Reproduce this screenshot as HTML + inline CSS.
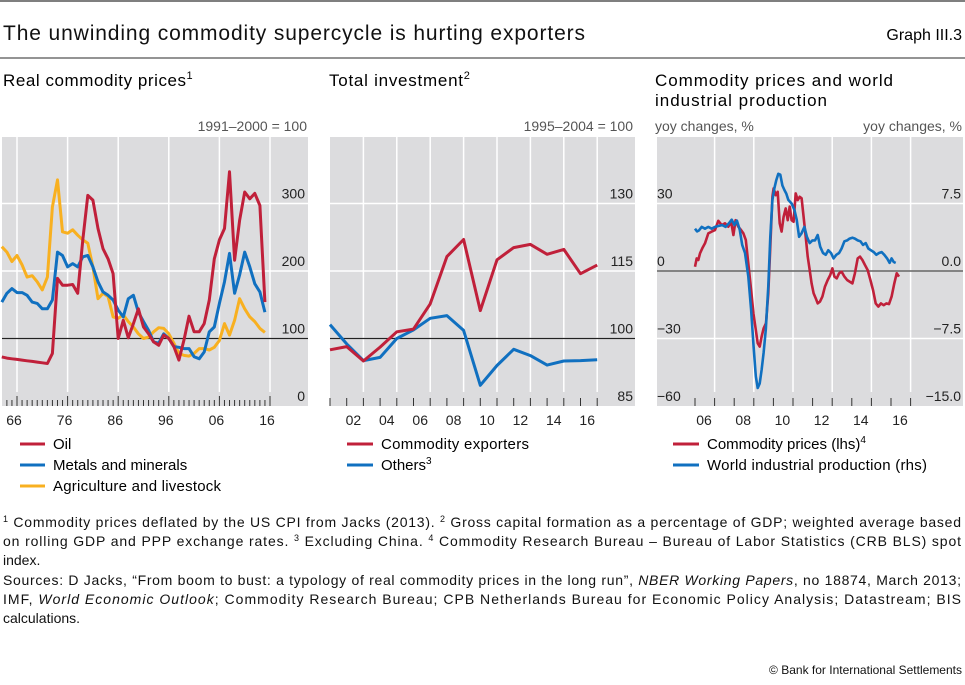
<!DOCTYPE html>
<html><head><meta charset="utf-8"><style>
body{margin:0;background:#fff;width:965px;height:685px;overflow:hidden;font-family:"Liberation Sans",sans-serif;color:#111}
svg{position:absolute;left:0;top:0}
</style></head><body>
<svg id="c" width="965" height="685">
<line x1="0" y1="1" x2="965" y2="1" stroke="#333" stroke-width="1.2"/>
<text x="3" y="40" font-size="21" fill="#111" textLength="582">The unwinding commodity supercycle is hurting exporters</text>
<text x="962" y="40" font-size="16" text-anchor="end">Graph III.3</text>
<line x1="0" y1="58" x2="965" y2="58" stroke="#555" stroke-width="1.2"/>
<text x="3" y="86" font-size="17"><tspan textLength="183">Real commodity prices</tspan><tspan font-size="11" dy="-7">1</tspan></text>
<text x="329" y="86" font-size="17"><tspan textLength="134">Total investment</tspan><tspan font-size="11" dy="-7">2</tspan></text>
<text x="655" y="86" font-size="17" textLength="238">Commodity prices and world</text>
<text x="655" y="106" font-size="17" textLength="172">industrial production</text>
<text x="307" y="131" font-size="14" fill="#555" text-anchor="end">1991–2000 = 100</text>
<text x="633" y="131" font-size="14" fill="#555" text-anchor="end">1995–2004 = 100</text>
<text x="655" y="131" font-size="14" fill="#555">yoy changes, %</text>
<text x="962" y="131" font-size="14" fill="#555" text-anchor="end">yoy changes, %</text>
<g id="p1"></g><g id="p2"></g><g id="p3"></g>
<g font-size="15">
<line x1="20" x2="45" y1="444" y2="444" stroke="#c0203a" stroke-width="3"/>
<text x="53" y="449">Oil</text>
<line x1="20" x2="45" y1="465" y2="465" stroke="#1070c0" stroke-width="3"/>
<text x="53" y="470">Metals and minerals</text>
<line x1="20" x2="45" y1="486" y2="486" stroke="#f8b020" stroke-width="3"/>
<text x="53" y="491" textLength="168">Agriculture and livestock</text>
<line x1="347" x2="373" y1="444" y2="444" stroke="#c0203a" stroke-width="3"/>
<text x="381" y="449" textLength="148">Commodity exporters</text>
<line x1="347" x2="373" y1="465" y2="465" stroke="#1070c0" stroke-width="3"/>
<text x="381" y="470">Others<tspan font-size="10" dy="-6">3</tspan></text>
<line x1="673" x2="699" y1="444" y2="444" stroke="#c0203a" stroke-width="3"/>
<text x="707" y="449">Commodity prices (lhs)<tspan font-size="10" dy="-6">4</tspan></text>
<line x1="673" x2="699" y1="465" y2="465" stroke="#1070c0" stroke-width="3"/>
<text x="707" y="470" textLength="220">World industrial production (rhs)</text>
</g>
<g font-size="14" fill="#111" xml:space="preserve">
<text x="3" y="527" textLength="958"><tspan font-size="9" dy="-5">1</tspan><tspan dy="5">  Commodity prices deflated by the US CPI from Jacks (2013).    </tspan><tspan font-size="9" dy="-5">2</tspan><tspan dy="5">  Gross capital formation as a percentage of GDP; weighted average based</tspan></text>
<text x="3" y="546" textLength="958">on rolling GDP and PPP exchange rates.    <tspan font-size="9" dy="-5">3</tspan><tspan dy="5">  Excluding China.    </tspan><tspan font-size="9" dy="-5">4</tspan><tspan dy="5">  Commodity Research Bureau – Bureau of Labor Statistics (CRB BLS) spot</tspan></text>
<text x="3" y="565">index.</text>
<text x="3" y="585" textLength="958">Sources: D Jacks, “From boom to bust: a typology of real commodity prices in the long run”, <tspan font-style="italic">NBER Working Papers</tspan>, no 18874, March 2013;</text>
<text x="3" y="604" textLength="958">IMF, <tspan font-style="italic">World Economic Outlook</tspan>; Commodity Research Bureau; CPB Netherlands Bureau for Economic Policy Analysis; Datastream; BIS</text>
<text x="3" y="623">calculations.</text>
<text x="962" y="674" font-size="12" text-anchor="end">© Bank for International Settlements</text>
</g>
</svg>
<script>
// Panel 1 data (annual, 1963–2015)
const p1Start = 1963;
const oil = [72.8,71,70,69,68,67,66,65,64,63,78,189,179,179,180,167,246,312,305,263,233,218,196,100,127,101,122,144,117,107,95,90,105,100,88,68,98,133,110,110,122,157,218,246,263,347,216,275,317,307,315,297,154];
const metals = [154,167,174,168,168,164,154,152,144,144,157,228,223,206,211,206,221,223,206,184,169,164,157,142,132,159,164,139,125,112,95,93,107,100,88,87,85,85,73,70,80,110,117,152,184,226,167,194,228,206,181,169,139];
const agri = [236,228,214,223,209,191,193,184,172,191,295,335,258,256,261,253,246,241,206,159,167,162,132,130,135,125,117,107,100,102,110,116,115,107,93,78,75,74,78,85,85,83,87,97,122,105,127,159,144,132,125,115,109];
const p1YTicks = [0,100,200,300];
const p1XLabels = ["66","76","86","96","06","16"];
const p1XLabelYears = [1966,1976,1986,1996,2006,2016];
// Panel 2 data (annual, 2000–2016)
const p2Years = [2000,2001,2002,2003,2004,2005,2006,2007,2008,2009,2010,2011,2012,2013,2014,2015,2016];
const exporters = [97.5,98.2,95,98.1,101.5,102.1,107.7,118.2,122,106.2,117.5,120.2,120.9,118.7,119.8,114.4,116.3];
const others = [103.1,98.8,95.1,95.8,100,101.9,104.5,105.1,101.8,89.6,94,97.6,96.2,94.1,95,95.1,95.3];
const p2YTicks = [85,100,115,130];
const p2XLabels = ["02","04","06","08","10","12","14","16"];
// Panel 3 data (years since 2006)
const redT = [0,.085,.17,.255,.374,.51,.68,.85,1.02,1.19,1.36,1.53,1.70,1.84,1.96,2.07,2.21,2.35,2.47,2.59,2.72,2.86,2.98,3.10,3.20,3.30,3.40,3.50,3.62,3.74,3.84,3.95,4.01,4.12,4.22,4.32,4.42,4.52,4.63,4.73,4.83,4.93,5.03,5.14,5.24,5.34,5.44,5.54,5.65,5.75,5.85,5.95,6.05,6.16,6.26,6.38,6.50,6.63,6.77,6.90,7.01,7.11,7.23,7.35,7.48,7.62,7.76,7.89,8.03,8.16,8.30,8.42,8.54,8.67,8.81,8.95,9.08,9.22,9.35,9.49,9.63,9.76,9.90,10.03,10.17,10.29,10.41];
const commodity = [1.9,5.6,4.9,7.8,10.1,12.3,16.7,17.5,18.2,22.3,20.4,21.2,19.7,21.9,16,22.6,19.7,18.2,16.7,13.8,3.4,-8.4,-18.8,-26.2,-32.1,-33.6,-29.2,-25.5,-23.2,-9.9,10.8,33,36.7,33.7,35.2,21.2,17.5,24.1,27.8,22.6,28.6,22.6,21.9,34.5,31.5,33,32.3,24.1,15.2,6.4,0.4,-5.5,-9.9,-12.1,-14.4,-13.6,-11.4,-7,-4,-1.8,1.2,-2.5,-3.3,-1,-0.3,-2.5,-4,-4.7,-5.5,-1,5.6,6.4,4.9,2.7,0.4,-4,-8.4,-14.4,-15.8,-14.4,-15.2,-14.4,-14.7,-11.4,-5.5,-1,-2.5];
const blueT = [0,.10,.20,.34,.51,.68,.85,1.02,1.19,1.39,1.56,1.73,1.87,2.01,2.14,2.28,2.41,2.55,2.72,2.86,2.99,3.10,3.20,3.30,3.40,3.50,3.61,3.74,3.84,3.95,4.05,4.15,4.25,4.35,4.46,4.56,4.66,4.76,4.93,5.07,5.19,5.31,5.44,5.58,5.71,5.85,5.99,6.12,6.26,6.39,6.53,6.67,6.80,6.94,7.07,7.21,7.35,7.48,7.62,7.76,7.89,8.03,8.16,8.30,8.44,8.57,8.71,8.84,8.98,9.12,9.25,9.39,9.52,9.66,9.80,9.93,10.03,10.14,10.24];
const production = [4.7,4.4,4.5,4.9,4.7,4.9,4.7,4.9,5.0,5.1,4.9,5.3,5.7,5.1,5.6,4.6,2.9,2.0,-0.6,-4.3,-8.4,-11.7,-13,-12.5,-11,-9.1,-6.5,-1.7,3.8,7.9,9.2,10.1,10.8,10.7,9.5,9,8.6,7.9,7.5,6.8,5.7,3.8,4.2,4.9,3.8,3.1,3.4,3.4,4.0,2.7,2.0,1.8,2.3,2.0,1.4,1.8,2.0,2.5,3.3,3.4,3.6,3.7,3.6,3.4,3.3,2.9,3.1,2.5,2.3,2.1,1.8,2.0,2.1,1.8,1.4,0.9,1.4,1.0,0.9];
const p3LTicks = [-60,-30,0,30];
const p3RTicks = ["−15.0","−7.5","0.0","7.5"];
const p3RVals = [-15,-7.5,0,7.5];
const p3XLabels = ["06","08","10","12","14","16"];
const p3XLabelYears = [2006,2008,2010,2012,2014,2016];

const NS="http://www.w3.org/2000/svg";
function mk(parent,tag,attrs){const e=document.createElementNS(NS,tag);for(const k in attrs)e.setAttribute(k,attrs[k]);parent.appendChild(e);return e;}
const TOP=137,BOT=406;
const RED="#c0203a",BLUE="#1070c0",YEL="#f8b020";
function bg(g,x0,x1){const r=mk(g,"rect",{x:x0,y:TOP,width:x1-x0,height:BOT-TOP,fill:"#dcdcde"});}
function hgrid(g,x0,x1,y){const l=mk(g,"line",{x1:x0,x2:x1,y1:y,y2:y,stroke:"#fff","stroke-width":1.5});}
function vgrid(g,x){const l=mk(g,"line",{x1:x,x2:x,y1:TOP,y2:BOT-14,stroke:"#fff","stroke-width":1.5});}
function lbl(g,x,y,t,anchor,name){const e=mk(g,"text",{x:x,y:y,"font-size":14,"text-anchor":anchor,fill:"#222"});e.textContent=t;}
function path(g,xs,ys,color,name,w){let d="";for(let i=0;i<xs.length;i++)d+=(i?"L":"M")+xs[i].toFixed(1)+","+ys[i].toFixed(1);const p=mk(g,"path",{d:d,fill:"none",stroke:color,"stroke-width":w||3,"stroke-linejoin":"round"});}
function tick(g,x,h){const l=mk(g,"line",{x1:x,x2:x,y1:BOT-h,y2:BOT,stroke:"#333","stroke-width":1});}

// Panel 1
(function(){const g=document.getElementById("p1");const X0=2,X1=308;
const x=yr=>17+(yr-1966)*5.06, y=v=>BOT-v*0.675;
bg(g,X0,X1);
p1YTicks.forEach(v=>{if(v>0)hgrid(g,X0,X1,y(v));lbl(g,305,y(v)-5,String(v),"end","y-tick-label");});
p1XLabelYears.forEach(yr=>vgrid(g,x(yr)));
for(let yr=1964;yr<=2016;yr++)tick(g,x(yr),(yr%10===6)?10:6);
p1XLabels.forEach((t,i)=>lbl(g,x(p1XLabelYears[i])-3,425,t,"middle","x-tick-label"));
const ln=mk(g,"line",{x1:X0,x2:X1,y1:y(100),y2:y(100),stroke:"#222","stroke-width":1.2});
const xs=oil.map((_,i)=>x(p1Start+i));
path(g,xs,agri.map(y),YEL,"agri-line");path(g,xs,metals.map(y),BLUE,"metals-line");path(g,xs,oil.map(y),RED,"oil-line");
})();
// Panel 2
(function(){const g=document.getElementById("p2");const X0=330,X1=635;
const x=yr=>330+(yr-2000)*16.7, y=v=>BOT-(v-85)*4.5;
bg(g,X0,X1);
p2YTicks.forEach(v=>{if(v>85)hgrid(g,X0,X1,y(v));lbl(g,633,y(v)-5,String(v),"end","y-tick-label");});
for(let yr=2002;yr<=2016;yr+=2)vgrid(g,x(yr));
for(let yr=2000;yr<=2016;yr++)tick(g,x(yr),8);
p2XLabels.forEach((t,i)=>lbl(g,x(2002+2*i)-10,425,t,"middle","x-tick-label"));
const ln=mk(g,"line",{x1:X0,x2:X1,y1:y(100),y2:y(100),stroke:"#222","stroke-width":1.2});
const xs=p2Years.map(x);
path(g,xs,others.map(y),BLUE,"others-line");path(g,xs,exporters.map(y),RED,"exporters-line");
})();
// Panel 3
(function(){const g=document.getElementById("p3");const X0=657,X1=963;
const x=t=>695+t*19.6, yl=v=>271-v*2.25, yr=v=>271-v*9;
bg(g,X0,X1);
p3LTicks.forEach(v=>{if(v>-60)hgrid(g,X0,X1,yl(v));lbl(g,657,yl(v)-5,v<0?"−"+(-v):String(v),"start","y-left-tick-label");});
p3RVals.forEach((v,i)=>lbl(g,961,yr(v)-5,p3RTicks[i],"end","y-right-tick-label"));
for(let yy=2007;yy<=2017;yy+=2)vgrid(g,x(yy-2006));
for(let yy=2006;yy<=2017;yy++)tick(g,x(yy-2006),8);
p3XLabels.forEach((t,i)=>lbl(g,x(p3XLabelYears[i]-2006)+9,425,t,"middle","x-tick-label"));
const ln=mk(g,"line",{x1:X0,x2:X1,y1:yl(0),y2:yl(0),stroke:"#444","stroke-width":1.2});
path(g,redT.map(x),commodity.map(yl),RED,"commodity-line",2.6);
path(g,blueT.map(x),production.map(yr),BLUE,"production-line",2.6);
})();
</script>
</body></html>
